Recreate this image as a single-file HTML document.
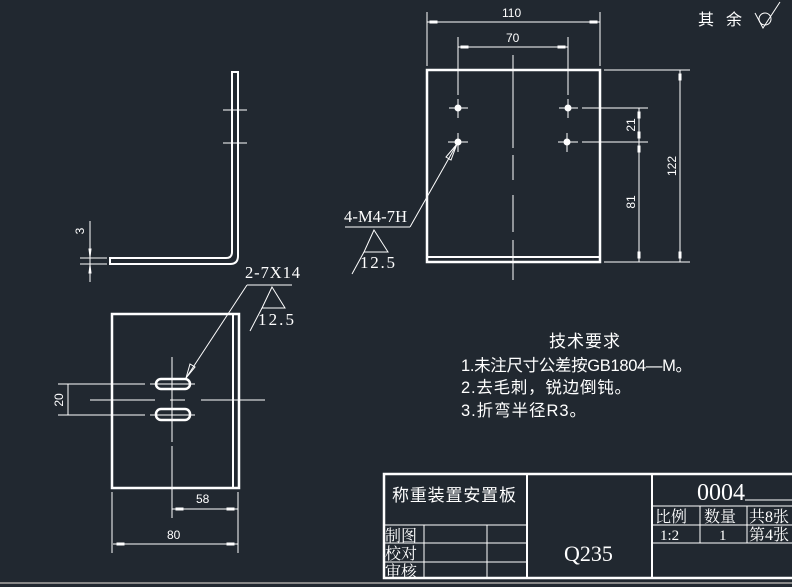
<!DOCTYPE html>
<html><head><meta charset="utf-8"><style>
html,body{margin:0;padding:0;background:#212830;}
svg{display:block}
.s{font-family:"Liberation Serif","Noto Serif CJK SC",serif;fill:#fff}
.a{font-family:"Liberation Sans","Noto Sans CJK SC",sans-serif;fill:#fff}
</style></head><body>
<svg width="792" height="587" viewBox="0 0 792 587" xmlns="http://www.w3.org/2000/svg">
<rect width="792" height="587" fill="#212830"/>
<g stroke="#fff" fill="none" stroke-width="1">
<path d="M232 72 V252 Q232 258 226 258 H110 V264 H230 Q238 264 238 256 V72 Z" stroke-width="2"/>
<line x1="223" y1="110" x2="247" y2="110"/><line x1="223" y1="143" x2="247" y2="143"/>
<line x1="90" y1="221" x2="90" y2="282"/>
<line x1="80" y1="258" x2="107" y2="258"/><line x1="80" y1="264" x2="107" y2="264"/>
<path d="M89 249 L91 249 L90 257 Z M89 273 L91 273 L90 265 Z"/>
<rect x="112" y="314" width="127" height="174" stroke-width="2.5"/>
<line x1="233" y1="314" x2="233" y2="488" stroke-width="2"/>
<rect x="156" y="379" width="34" height="10" rx="5" stroke-width="2.5"/>
<rect x="156" y="409" width="34" height="11" rx="5" stroke-width="2.5"/>
<line x1="172" y1="357" x2="172" y2="442"/><line x1="172" y1="446" x2="172" y2="518"/>
<line x1="90" y1="400" x2="155" y2="400"/><line x1="170" y1="400" x2="185" y2="400"/><line x1="201" y1="400" x2="265" y2="400"/>
<line x1="58" y1="384" x2="145" y2="384"/><line x1="150" y1="384" x2="195" y2="384"/>
<line x1="58" y1="415" x2="145" y2="415"/><line x1="150" y1="415" x2="195" y2="415"/>
<line x1="68" y1="384" x2="68" y2="415"/>
<line x1="112" y1="492" x2="112" y2="553"/><line x1="238" y1="492" x2="238" y2="553"/>
<line x1="172" y1="509" x2="238" y2="509"/><line x1="113" y1="544" x2="238" y2="544"/>
<path d="M176 508 L183 508 L183 510 L176 510 Z M234 508 L227 508 L227 510 L234 510 Z M117 543 L124 543 L124 545 L117 545Z M234 543 L227 543 L227 545 L234 545Z"/>
<line x1="186" y1="378" x2="247" y2="285"/><line x1="247" y1="285" x2="292" y2="285"/>
<path d="M186 378 L190 364 L195 367 Z"/>
<path d="M272 287 L262 308 L285 308 Z"/><line x1="250" y1="331" x2="262" y2="308"/>
<rect x="427" y="70" width="173" height="192" stroke-width="2.5"/>
<line x1="427" y1="257" x2="600" y2="257" stroke-width="2"/>
<line x1="513" y1="55" x2="513" y2="148"/><line x1="513" y1="155" x2="513" y2="180"/><line x1="513" y1="195" x2="513" y2="232"/><line x1="513" y1="240" x2="513" y2="280"/>
<line x1="427" y1="12" x2="427" y2="66"/><line x1="600" y1="12" x2="600" y2="66"/>
<line x1="427" y1="22" x2="600" y2="22"/>
<line x1="458" y1="37" x2="458" y2="95"/><line x1="568" y1="37" x2="568" y2="95"/>
<line x1="458" y1="47" x2="568" y2="47"/>
<path d="M430 21 L437 21 L437 23 L430 23Z M597 21 L590 21 L590 23 L597 23Z M461 46 L468 46 L468 48 L461 48Z M565 46 L558 46 L558 48 L565 48Z"/>
<line x1="449" y1="108" x2="468" y2="108"/><line x1="458" y1="99" x2="458" y2="118"/>
<line x1="559" y1="108" x2="578" y2="108"/><line x1="568" y1="99" x2="568" y2="118"/>
<line x1="448" y1="142" x2="468" y2="142"/><line x1="458" y1="133" x2="458" y2="152"/>
<line x1="558" y1="142" x2="578" y2="142"/><line x1="567" y1="133" x2="567" y2="152"/>
<line x1="582" y1="108" x2="648" y2="108"/><line x1="582" y1="142" x2="648" y2="142"/>
<line x1="604" y1="70" x2="690" y2="70"/><line x1="604" y1="262" x2="690" y2="262"/>
<line x1="680" y1="70" x2="680" y2="262"/><line x1="639" y1="108" x2="639" y2="262"/>
<path d="M679 74 L681 74 L681 80 L679 80Z M679 258 L681 258 L681 252 L679 252Z M638 112 L640 112 L640 118 L638 118Z M638 138 L640 138 L640 132 L638 132Z M638 146 L640 146 L640 152 L638 152Z M638 258 L640 258 L640 252 L638 252Z"/>
<line x1="457" y1="144" x2="410" y2="227"/><line x1="410" y1="227" x2="345" y2="227"/>
<path d="M457 144 L451 160 L446 157 Z"/>
<path d="M374 230 L364 252 L388 252 Z"/><line x1="352" y1="274" x2="364" y2="252"/>
<path d="M755 13 L763 28 L780 2"/><circle cx="765" cy="19" r="6"/>
<rect x="384" y="474" width="420" height="104" stroke-width="2.5"/>
<line x1="527" y1="474" x2="527" y2="578" stroke-width="2"/>
<line x1="652" y1="474" x2="652" y2="578" stroke-width="2"/>
<line x1="384" y1="525" x2="527" y2="525"/><line x1="384" y1="543" x2="527" y2="543"/><line x1="384" y1="562" x2="527" y2="562"/>
<line x1="424" y1="525" x2="424" y2="578"/><line x1="487" y1="525" x2="487" y2="578"/>
<line x1="652" y1="506" x2="792" y2="506"/><line x1="652" y1="525" x2="792" y2="525"/><line x1="652" y1="543" x2="792" y2="543"/>
<line x1="700" y1="506" x2="700" y2="543"/><line x1="747" y1="506" x2="747" y2="543"/>
<line x1="745" y1="500" x2="792" y2="500"/>
<line x1="0" y1="583" x2="792" y2="583" stroke="#888" stroke-width="2"/>
</g>
<g fill="#fff" stroke="none">
<circle cx="458" cy="108" r="3.5"/><circle cx="568" cy="108" r="3.5"/><circle cx="458" cy="142" r="3.5"/><circle cx="567" cy="142" r="3.5"/>
</g>
<g class="a" font-size="12">
<text x="502" y="17">110</text><text x="506" y="42">70</text>
<text transform="translate(676,166) rotate(-90)" text-anchor="middle">122</text>
<text transform="translate(635,125) rotate(-90)" text-anchor="middle">21</text>
<text transform="translate(635,202) rotate(-90)" text-anchor="middle">81</text>
<text transform="translate(84,231) rotate(-90)" text-anchor="middle">3</text>
<text transform="translate(63,400) rotate(-90)" text-anchor="middle">20</text>
<text x="196" y="503">58</text><text x="167" y="539">80</text>
</g>
<g class="s" font-size="16.5">
<text x="344" y="222" textLength="63">4-M4-7H</text><text x="360" y="268" textLength="35" font-size="17">12.5</text>
<text x="245" y="278" textLength="55">2-7X14</text><text x="258" y="325" textLength="36" font-size="17">12.5</text>
</g>
<g class="a" font-size="16.5">
<text x="698" y="25" font-size="16" textLength="44">其 余</text>
<text x="549" y="347" font-size="17" textLength="71">技术要求</text>
<text x="461" y="371" textLength="231">1.未注尺寸公差按GB1804—M。</text>
<text x="461" y="393" textLength="170">2.去毛刺，锐边倒钝。</text>
<text x="461" y="416" textLength="125">3.折弯半径R3。</text>
</g>
<g class="s">
<text x="392" y="501" font-size="17" class="a" textLength="124">称重装置安置板</text>
<text x="697" y="500" font-size="24">0004</text>
<text x="564" y="561" font-size="22">Q235</text>
<text x="655" y="522" font-size="16">比例</text>
<text x="704" y="522" font-size="16">数量</text>
<text x="749" y="522" font-size="16">共8张</text>
<text x="660" y="540" font-size="15">1:2</text>
<text x="719" y="540" font-size="15">1</text>
<text x="749" y="540" font-size="16">第4张</text>
<text x="385" y="541" font-size="16">制图</text>
<text x="385" y="559" font-size="16">校对</text>
<text x="385" y="577" font-size="16">审核</text>
</g>
</svg>
</body></html>
